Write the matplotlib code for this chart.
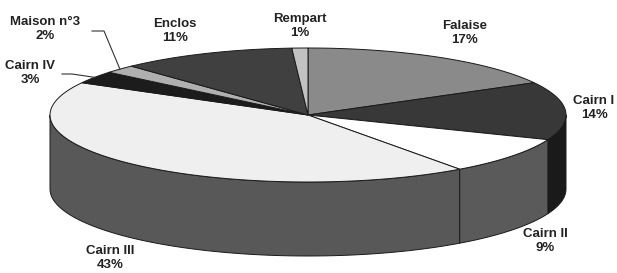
import numpy as np
import matplotlib
matplotlib.use('Agg')
import matplotlib.pyplot as plt
from matplotlib.patches import Polygon

# data
labels = ['Falaise', 'Cairn I', 'Cairn II', 'Cairn III', 'Cairn IV', 'Maison n°3', 'Enclos', 'Rempart']
values = [17, 14, 9, 43, 3, 2, 11, 1]

# style
top_colors = ['#8a8a8a', '#383838', '#ffffff', '#efefef', '#1c1c1c', '#b0b0b0', '#404040', '#c2c2c2']
side_colors = ['#6a6a6a', '#1a1a1a', '#5a5a5a', '#585858', '#111111', '#888888', '#2a2a2a', '#999999']
label_pos = [(465, 33), (594, 108), (545, 241), (110, 258), (30, 73), (45, 29), (175, 31), (300, 26)]

W, H = 617, 273
cx, cy, rx, ry, depth = 308, 115, 258, 67, 74

fig = plt.figure(figsize=(W / 100, H / 100), dpi=100)
ax = fig.add_axes([0, 0, 1, 1])
ax.set_xlim(0, W)
ax.set_ylim(H, 0)
ax.axis('off')


def edge(t0, t1, n=80):
    t = np.radians(np.linspace(t0, t1, n))
    return cx + rx * np.sin(t), cy - ry * np.cos(t)


fracs = np.array(values, dtype=float) / sum(values)
bounds = np.concatenate([[0], np.cumsum(fracs) * 360])

# side walls (front half only)
for i in range(len(values)):
    a0, a1 = max(bounds[i], 90), min(bounds[i + 1], 270)
    if a1 <= a0:
        continue
    x, y = edge(a0, a1)
    pts = np.column_stack([np.concatenate([x, x[::-1]]), np.concatenate([y, y[::-1] + depth])])
    ax.add_patch(Polygon(pts, closed=True, facecolor=side_colors[i], edgecolor='#1a1a1a', lw=0.7))

# top faces
for i in range(len(values)):
    x, y = edge(bounds[i], bounds[i + 1])
    pts = np.column_stack([np.concatenate([[cx], x]), np.concatenate([[cy], y])])
    ax.add_patch(Polygon(pts, closed=True, facecolor=top_colors[i], edgecolor='#1a1a1a', lw=0.7))

# labels
for i, lab in enumerate(labels):
    tx, ty = label_pos[i]
    ax.text(tx, ty, f"{lab}\n{values[i]}%", ha='center', va='center', fontsize=9.5,
            fontweight='bold', family='Liberation Sans', color='#222222', linespacing=1.3)

# leader lines
mid = (bounds[5] + bounds[6]) / 2
ex, ey = edge(mid, mid, 1)
ax.plot([92, 104, ex[0]], [31, 31, ey[0]], color='#333333', lw=0.8)
mid = (bounds[4] + bounds[5]) / 2
ex, ey = edge(mid, mid, 1)
ax.plot([62, 72, ex[0]], [74, 74, ey[0]], color='#333333', lw=0.8)

fig.savefig('out.png', dpi=100)
